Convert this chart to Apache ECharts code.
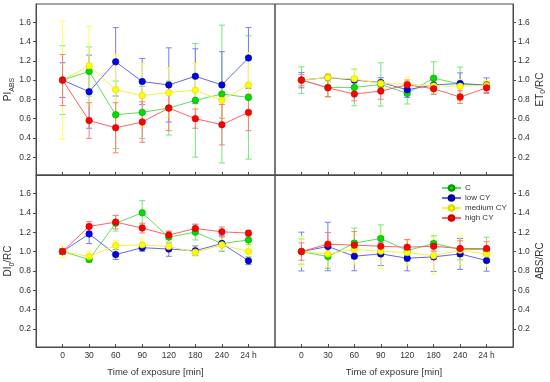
<!DOCTYPE html>
<html>
<head>
<meta charset="utf-8">
<script src="https://cdn.jsdelivr.net/npm/echarts@6/dist/echarts.min.js"></script>
<style>html,body{margin:0;padding:0;background:#fff;}#c{width:550px;height:382px;}</style>
</head>
<body>
<div id="c"></div>
<script>
const categories = ['0', '30', '60', '90', '120', '180', '240', '24 h'];
const yTicks = [0.2, 0.4, 0.6, 0.8, 1.0, 1.2, 1.4, 1.6];
const seriesNames = ['C', 'low CY', 'medium CY', 'high CY'];

// PI_ABS
const piC      = [1.0, 1.09, 0.64, 0.665, 0.71, 0.79, 0.855, 0.82];
const piCErr   = [0.357, 0.255, 0.35, 0.27, 0.28, 0.59, 0.715, 0.64];
const piLow    = [1.0, 0.88, 1.19, 0.985, 0.95, 1.04, 0.95, 1.23];
const piLowErr = [0.18, 0.38, 0.355, 0.24, 0.385, 0.285, 0.345, 0.315];
const piMed    = [1.0, 1.15, 0.90, 0.84, 0.87, 0.895, 0.79, 0.95];
const piMedErr = [0.613, 0.41, 0.37, 0.33, 0.257, 0.278, 0.18, 0.333];
const piHigh   = [1.0, 0.58, 0.505, 0.565, 0.71, 0.60, 0.537, 0.665];
const piHighErr= [0.265, 0.185, 0.26, 0.21, 0.235, 0.10, 0.21, 0.19];

// ET0/RC
const etC      = [1.0, 0.924, 0.924, 0.955, 0.862, 1.02, 0.96, 0.945];
const etCErr   = [0.138, 0.10, 0.19, 0.225, 0.11, 0.17, 0.175, 0.05];
const etLow    = [1.0, 1.027, 1.0, 0.975, 0.90, 0.95, 0.965, 0.948];
const etLowErr = [0.08, 0.04, 0.03, 0.05, 0.08, 0.05, 0.11, 0.075];
const etMed    = [1.0, 1.027, 1.013, 0.965, 0.958, 0.94, 0.937, 0.945];
const etMedErr = [0.06, 0.04, 0.09, 0.04, 0.07, 0.05, 0.07, 0.05];
const etHigh   = [1.0, 0.92, 0.855, 0.886, 0.951, 0.91, 0.824, 0.92];
const etHighErr= [0.06, 0.09, 0.07, 0.085, 0.05, 0.055, 0.066, 0.06];

// DI0/RC
const diC      = [1.0, 0.918, 1.292, 1.40, 1.149, 1.20, 1.082, 1.12];
const diCErr   = [0.03, 0.03, 0.08, 0.125, 0.06, 0.08, 0.07, 0.05];
const diLow    = [1.0, 1.182, 0.969, 1.04, 1.026, 1.008, 1.083, 0.905];
const diLowErr = [0.03, 0.10, 0.05, 0.04, 0.075, 0.05, 0.08, 0.04];
const diMed    = [1.0, 0.95, 1.062, 1.069, 1.052, 0.994, 1.069, 1.0];
const diMedErr = [0.06, 0.05, 0.05, 0.06, 0.05, 0.04, 0.06, 0.06];
const diHigh   = [1.0, 1.259, 1.304, 1.242, 1.17, 1.238, 1.204, 1.19];
const diHighErr= [0.03, 0.05, 0.07, 0.05, 0.04, 0.045, 0.05, 0.03];

// ABS/RC
const absC      = [1.0, 0.948, 1.087, 1.135, 1.01, 1.083, 1.024, 1.018];
const absCErr   = [0.13, 0.12, 0.155, 0.14, 0.11, 0.08, 0.11, 0.13];
const absLow    = [1.0, 1.052, 0.952, 0.976, 0.931, 0.945, 0.976, 0.907];
const absLowErr = [0.2, 0.25, 0.15, 0.12, 0.13, 0.15, 0.16, 0.11];
const absMed    = [1.0, 0.976, 1.021, 1.004, 0.99, 0.956, 1.014, 0.976];
const absMedErr = [0.16, 0.13, 0.15, 0.18, 0.13, 0.19, 0.15, 0.13];
const absHigh   = [1.0, 1.076, 1.066, 1.055, 1.045, 1.055, 1.031, 1.031];
const absHighErr= [0.09, 0.12, 0.14, 0.1, 0.08, 0.05, 0.08, 0.07];

const panels = [
  { vals: [piC, piLow, piMed, piHigh], errs: [piCErr, piLowErr, piMedErr, piHighErr] },
  { vals: [etC, etLow, etMed, etHigh], errs: [etCErr, etLowErr, etMedErr, etHighErr] },
  { vals: [diC, diLow, diMed, diHigh], errs: [diCErr, diLowErr, diMedErr, diHighErr] },
  { vals: [absC, absLow, absMed, absHigh], errs: [absCErr, absLowErr, absMedErr, absHighErr] }
];

const markerColors = ['#00e000', '#0000e8', '#ffff00', '#ff0000'];
const markerBorders = ['#009a00', '#00008a', '#d8d800', '#c80000'];
const lineColors = ['#5ce05c', '#6464ff', '#f4f43a', '#ff6262'];
const errColors = ['#70ea70', '#7a7aff', '#ffff55', '#ff7a7a'];

const FONT = 'Liberation Sans, Arial, sans-serif';
const AX = '#4a4a4a';
const TXT = '#333';

const grids = [
  { left: 36, top: 4, width: 239, height: 171 },
  { left: 275, top: 4, width: 238, height: 171 },
  { left: 36, top: 175, width: 239, height: 172 },
  { left: 275, top: 175, width: 238, height: 172 }
].map(g => Object.assign(g, { show: true, borderColor: AX, borderWidth: 1, containLabel: false }));

const xIdx = [0, 1, 2, 3, 4, 5, 6, 7];
const xAxes = [0, 1, 2, 3].map(i => {
  const bottom = i >= 2;
  return {
    type: 'value', gridIndex: i, min: -1, max: 8, position: 'bottom',
    splitLine: { show: false },
    axisLine: { show: true, onZero: false, lineStyle: { color: AX, width: 1 } },
    axisTick: { show: true, inside: true, length: 3, customValues: xIdx, lineStyle: { color: AX } },
    axisLabel: {
      show: bottom, customValues: xIdx, margin: 4,
      formatter: v => categories[Math.round(v)],
      fontSize: 8.5, color: TXT, fontFamily: FONT
    },
    name: bottom ? 'Time of exposure [min]' : '',
    nameLocation: 'middle', nameGap: 20,
    nameTextStyle: { fontSize: 9.5, color: TXT, fontFamily: FONT }
  };
});

const yNames = [
  '{a|PI}{b|ABS}',
  '{a|ET}{b|0}{a|/RC}',
  '{a|DI}{b|0}{a|/RC}',
  '{a|ABS/RC}'
];
const yAxes = [0, 1, 2, 3].map(i => {
  const right = (i % 2) === 1;
  return {
    type: 'value', gridIndex: i, min: 0.015, max: 1.79,
    position: right ? 'right' : 'left',
    splitLine: { show: false },
    axisLine: { show: true, onZero: false, lineStyle: { color: AX, width: 1 } },
    axisTick: { show: true, inside: false, length: 3, customValues: yTicks, lineStyle: { color: AX } },
    axisLabel: {
      customValues: yTicks, margin: 5,
      formatter: v => v.toFixed(1),
      fontSize: 8.5, color: TXT, fontFamily: FONT
    },
    name: yNames[i], nameLocation: 'middle', nameRotate: 90,
    nameGap: right ? 22 : 14,
    nameTextStyle: {
      fontFamily: FONT, color: TXT,
      rich: {
        a: { fontSize: 10, fontFamily: FONT, color: TXT, verticalAlign: 'bottom', padding: [0, 0, 2, 0] },
        b: { fontSize: 7, fontFamily: FONT, color: TXT, verticalAlign: 'bottom' }
      }
    }
  };
});

function errRender(color) {
  return function (params, api) {
    const x = api.value(0), v = api.value(1), e = api.value(2);
    const t = api.coord([x, v + e]);
    const b = api.coord([x, v - e]);
    const cw = 3;
    const st = { stroke: color, lineWidth: 1, fill: null };
    return {
      type: 'group',
      children: [
        { type: 'line', shape: { x1: t[0], y1: t[1], x2: b[0], y2: b[1] }, style: st },
        { type: 'line', shape: { x1: t[0] - cw, y1: t[1], x2: t[0] + cw, y2: t[1] }, style: st },
        { type: 'line', shape: { x1: b[0] - cw, y1: b[1], x2: b[0] + cw, y2: b[1] }, style: st }
      ]
    };
  };
}

const series = [];
panels.forEach((p, pi) => {
  p.vals.forEach((vals, si) => {
    series.push({
      type: 'custom', name: 'err-' + pi + '-' + si,
      xAxisIndex: pi, yAxisIndex: pi, z: 2, silent: true,
      renderItem: errRender(errColors[si]),
      encode: { x: 0, y: 1 },
      data: vals.map((v, k) => [k, v, p.errs[si][k]])
    });
  });
});
panels.forEach((p, pi) => {
  p.vals.forEach((vals, si) => {
    series.push({
      type: 'line', name: seriesNames[si],
      xAxisIndex: pi, yAxisIndex: pi, z: 3 + si,
      symbol: 'circle', symbolSize: 6.5, showSymbol: true,
      lineStyle: { color: lineColors[si], width: 1 },
      itemStyle: { color: markerColors[si], borderColor: markerBorders[si], borderWidth: 0.6 },
      emphasis: { disabled: true },
      animation: false,
      data: vals.map((v, k) => [k, v])
    });
  });
});

const chart = echarts.init(document.getElementById('c'), null, { renderer: 'canvas' });
chart.setOption({
  animation: false,
  backgroundColor: '#fff',
  grid: grids,
  xAxis: xAxes,
  yAxis: yAxes,
  legend: {
    data: seriesNames, orient: 'vertical', left: 436, top: 179,
    itemWidth: 19, itemHeight: 7, itemGap: 2,
    textStyle: { fontSize: 8, color: TXT, fontFamily: FONT, padding: [0, 0, 0, -1] },
    selectedMode: false
  },
  series: series
});
</script>
</body>
</html>
